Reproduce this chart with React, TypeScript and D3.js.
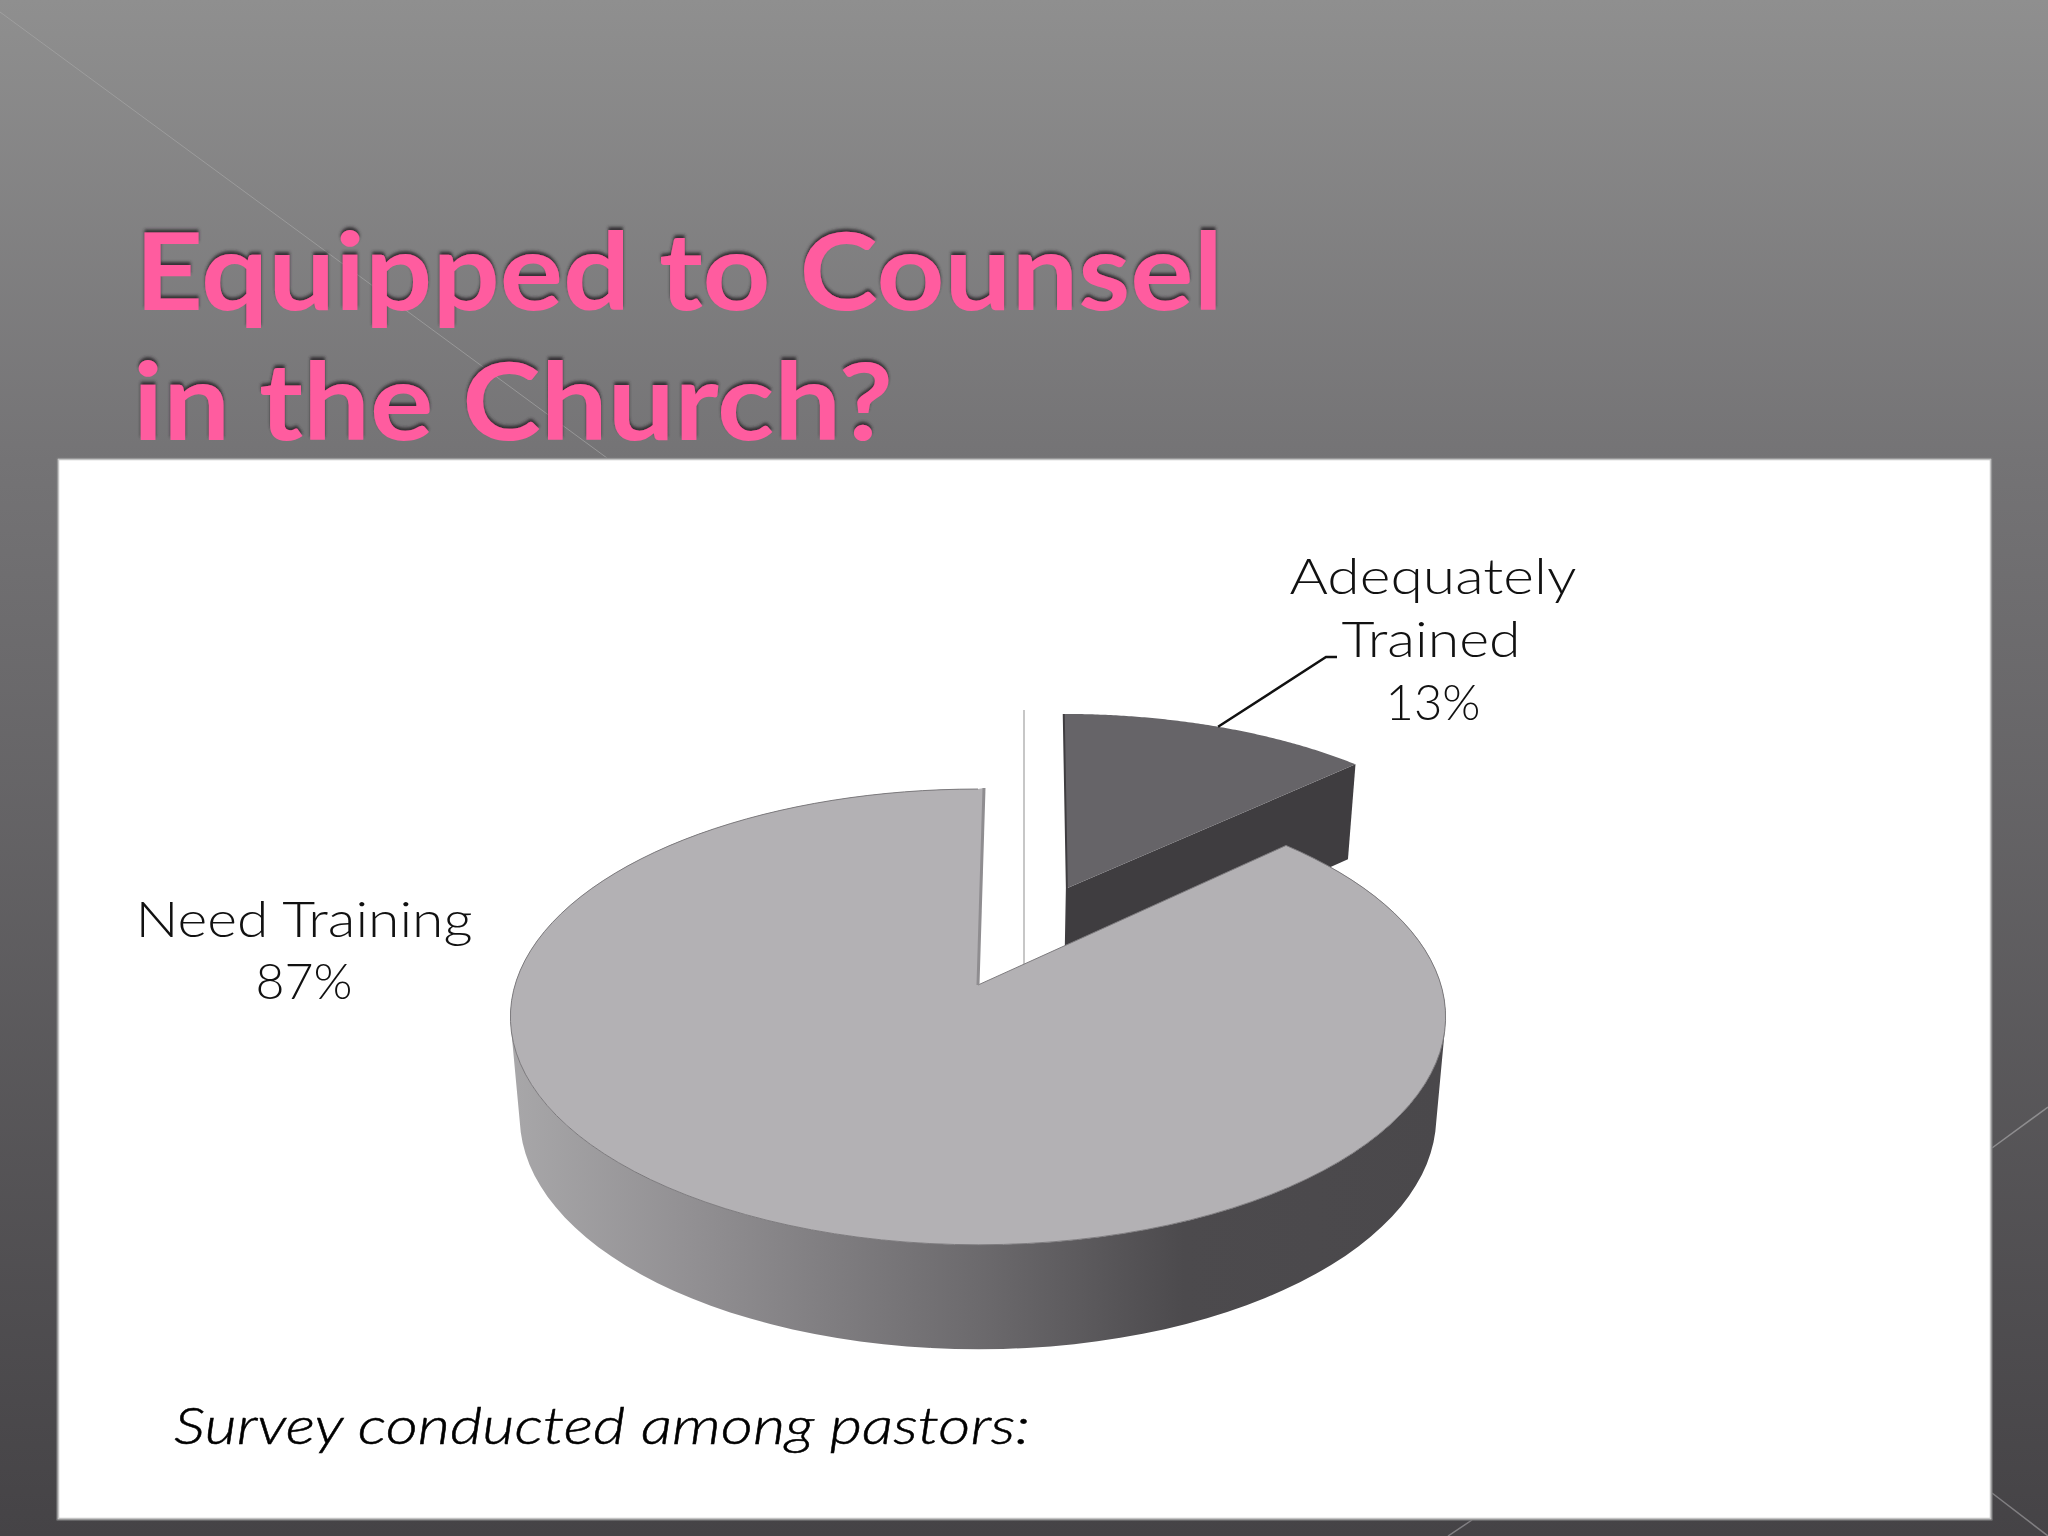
import * as d3 from 'd3';
import React from 'react';

const titleLines = ['Equipped to Counsel', 'in the Church?'];
const categories = ['Adequately Trained', 'Need Training'];
const values = [13, 87];
const adequateLabel = ['Adequately', 'Trained', '13%'];
const needLabel = ['Need Training', '87%'];
const footnote = 'Survey conducted among pastors:';

const width = 2048;
const height = 1536;
const font = 'Lato, "Open Sans", sans-serif';

// circle on the table -> screen, the pie is in perspective so not a plain ellipse
const cx = 978;
const project = (u: number, v: number) => {
    const w = 1 - 0.14 * v;
    return [cx + (463 * u) / w, (985 + 85.5 * v) / w];
};
const lower = ([x, y]: number[]) => [cx + 0.98 * (x - cx), 1117 + 1.02 * (y - 1017)];

const line = d3.line();
const rim = (a0: number, a1: number, du = 0, dv = 0) =>
    d3.range(0, 121).map(i => {
        const a = a0 + ((a1 - a0) * i) / 120;
        return project(Math.sin(a) + du, -Math.cos(a) + dv);
    });

// all quads wound the same way, otherwise overlaps cancel out under nonzero fill
const wound = (pts: [number, number][]) => (d3.polygonArea(pts) < 0 ? [...pts].reverse() : pts);

const App = () => {
    const arcs = d3.pie<number>().sort(null)(values);
    const small = arcs[0];
    const big = arcs[1];
    const mid = (small.startAngle + small.endAngle) / 2;
    const du = 0.503 * Math.sin(mid);
    const dv = -0.503 * Math.cos(mid);

    const bigRim = rim(big.startAngle, big.endAngle);
    const bigApex = project(0, 0);
    const bigBack = bigRim[bigRim.length - 1];
    const bigCorner = [bigBack[0] + 6, bigBack[1] - 1];
    const bigTop = [bigApex, ...bigRim, bigCorner];
    // side wall as one quad per rim step so the silhouette stays straight at the edges
    const bigWall = d3.pairs(bigRim)
        .map(([a, b]) => line(wound([a, b, lower(b), lower(a)] as [number, number][])) + 'Z')
        .join('');

    // the exploded slice leans a little in the source, keep that
    const lean = ([x, y]: number[], apexY: number) => [x + 2 + 0.04 * (apexY - y), y];
    const apexY = project(du, dv)[1];
    const smallRim = rim(small.startAngle, small.endAngle, du, dv).map(p => lean(p, apexY));
    const smallApex = lean(project(du, dv), apexY);
    const smallTop = [smallApex, ...smallRim];
    const smallEnd = smallRim[smallRim.length - 1];
    const smallCut = [smallApex, smallEnd, lower(smallEnd), lower(smallApex)];
    const leaderStart = lean(project(Math.sin(mid) + du, -Math.cos(mid) + dv), apexY);

    return (
        <svg width={width} height={height} style={{ position: 'absolute', left: 0, top: 0 }}>
            <defs>
                <linearGradient id="bg" x1="0" y1="0" x2="0" y2="1">
                    <stop offset="0" stopColor="#8f8f8f" />
                    <stop offset="0.3" stopColor="#747375" />
                    <stop offset="1" stopColor="#454346" />
                </linearGradient>
                <linearGradient id="wall" gradientUnits="userSpaceOnUse" x1="510" y1="0" x2="1446" y2="0">
                    <stop offset="0" stopColor="#a8a7a9" />
                    <stop offset="0.2" stopColor="#918f92" />
                    <stop offset="0.5" stopColor="#6c6a6d" />
                    <stop offset="0.72" stopColor="#4c4a4d" />
                    <stop offset="1" stopColor="#4a484b" />
                </linearGradient>
                <filter id="titleShadow" x="-5%" y="-20%" width="110%" height="140%">
                    <feDropShadow dx="0" dy="-3" stdDeviation="1.6" floodColor="#2e2c2e" floodOpacity="0.9" />
                </filter>
            </defs>

            <rect width={width} height={height} fill="url(#bg)" />
            <path d="M0,12L607,458" stroke="#a5a5a5" strokeWidth={1} fill="none" opacity={0.7} />
            <path d="M1992,1148L2048,1107" stroke="#8e8d8f" strokeWidth={1.5} fill="none" />
            <path d="M1992,1493L2048,1536" stroke="#817f82" strokeWidth={1.5} fill="none" />
            <path d="M1448,1536L1472,1520" stroke="#817f82" strokeWidth={1.5} fill="none" />

            <g fontFamily={font} fontWeight={700} fontSize={108} fill="#ff5c9f" filter="url(#titleShadow)">
                <text x={135} y={310} textLength={1088} lengthAdjust="spacingAndGlyphs">{titleLines[0]}</text>
                <text x={133} y={440} textLength={760} lengthAdjust="spacingAndGlyphs">{titleLines[1]}</text>
            </g>

            <rect x={58} y={459} width={1933} height={1060} fill="#fff" stroke="#c4c4c4" strokeWidth={2.5} />
            <rect x={57} y={458} width={1935} height={1062} fill="none" stroke="#69686a" strokeWidth={1} />

            <path d="M1024,710L1024,965" stroke="#b5b5b5" strokeWidth={1.5} />

            <g aria-label={categories[0]}>
                <path d={line(smallCut)! + 'Z'} fill="#3f3d40" />
                <path d={line(smallTop)! + 'Z'} fill="#666468" />
                <path d={line([smallRim[0], smallApex, lower(smallApex)])!} fill="none" stroke="#3f3d40" strokeWidth={2} />
            </g>

            <g aria-label={categories[1]}>
                <path d={bigWall} fill="url(#wall)" />
                <path d={line(bigTop)! + 'Z'} fill="#b3b1b4" />
                <path d={line([bigApex, ...bigRim])!} fill="none" stroke="#7d7b7e" strokeWidth={1} />
                <path d={line([bigApex, bigCorner])!} fill="none" stroke="#8f8d90" strokeWidth={3} />
            </g>

            <path
                d={line([leaderStart, [1326, 657], [1337, 657]])!}
                fill="none"
                stroke="#111"
                strokeWidth={2.5}
            />

            <g fontFamily={font} fontWeight={300} fontSize={50} fill="#111" textAnchor="middle">
                <text x={1433} y={594} textLength={287} lengthAdjust="spacingAndGlyphs">{adequateLabel[0]}</text>
                <text x={1431} y={657} textLength={179} lengthAdjust="spacingAndGlyphs">{adequateLabel[1]}</text>
                <text x={1433} y={720} textLength={95} lengthAdjust="spacingAndGlyphs">{adequateLabel[2]}</text>
                <text x={304} y={937} textLength={337} lengthAdjust="spacingAndGlyphs">{needLabel[0]}</text>
                <text x={304} y={999} textLength={97} lengthAdjust="spacingAndGlyphs">{needLabel[1]}</text>
            </g>

            <text
                x={174}
                y={1444}
                fontFamily={font}
                fontWeight={300}
                fontStyle="italic"
                fontSize={52}
                fill="#000"
                stroke="#000"
                strokeWidth={0.5}
                textLength={856}
                lengthAdjust="spacingAndGlyphs"
            >
                {footnote}
            </text>
        </svg>
    );
};

export default App;
